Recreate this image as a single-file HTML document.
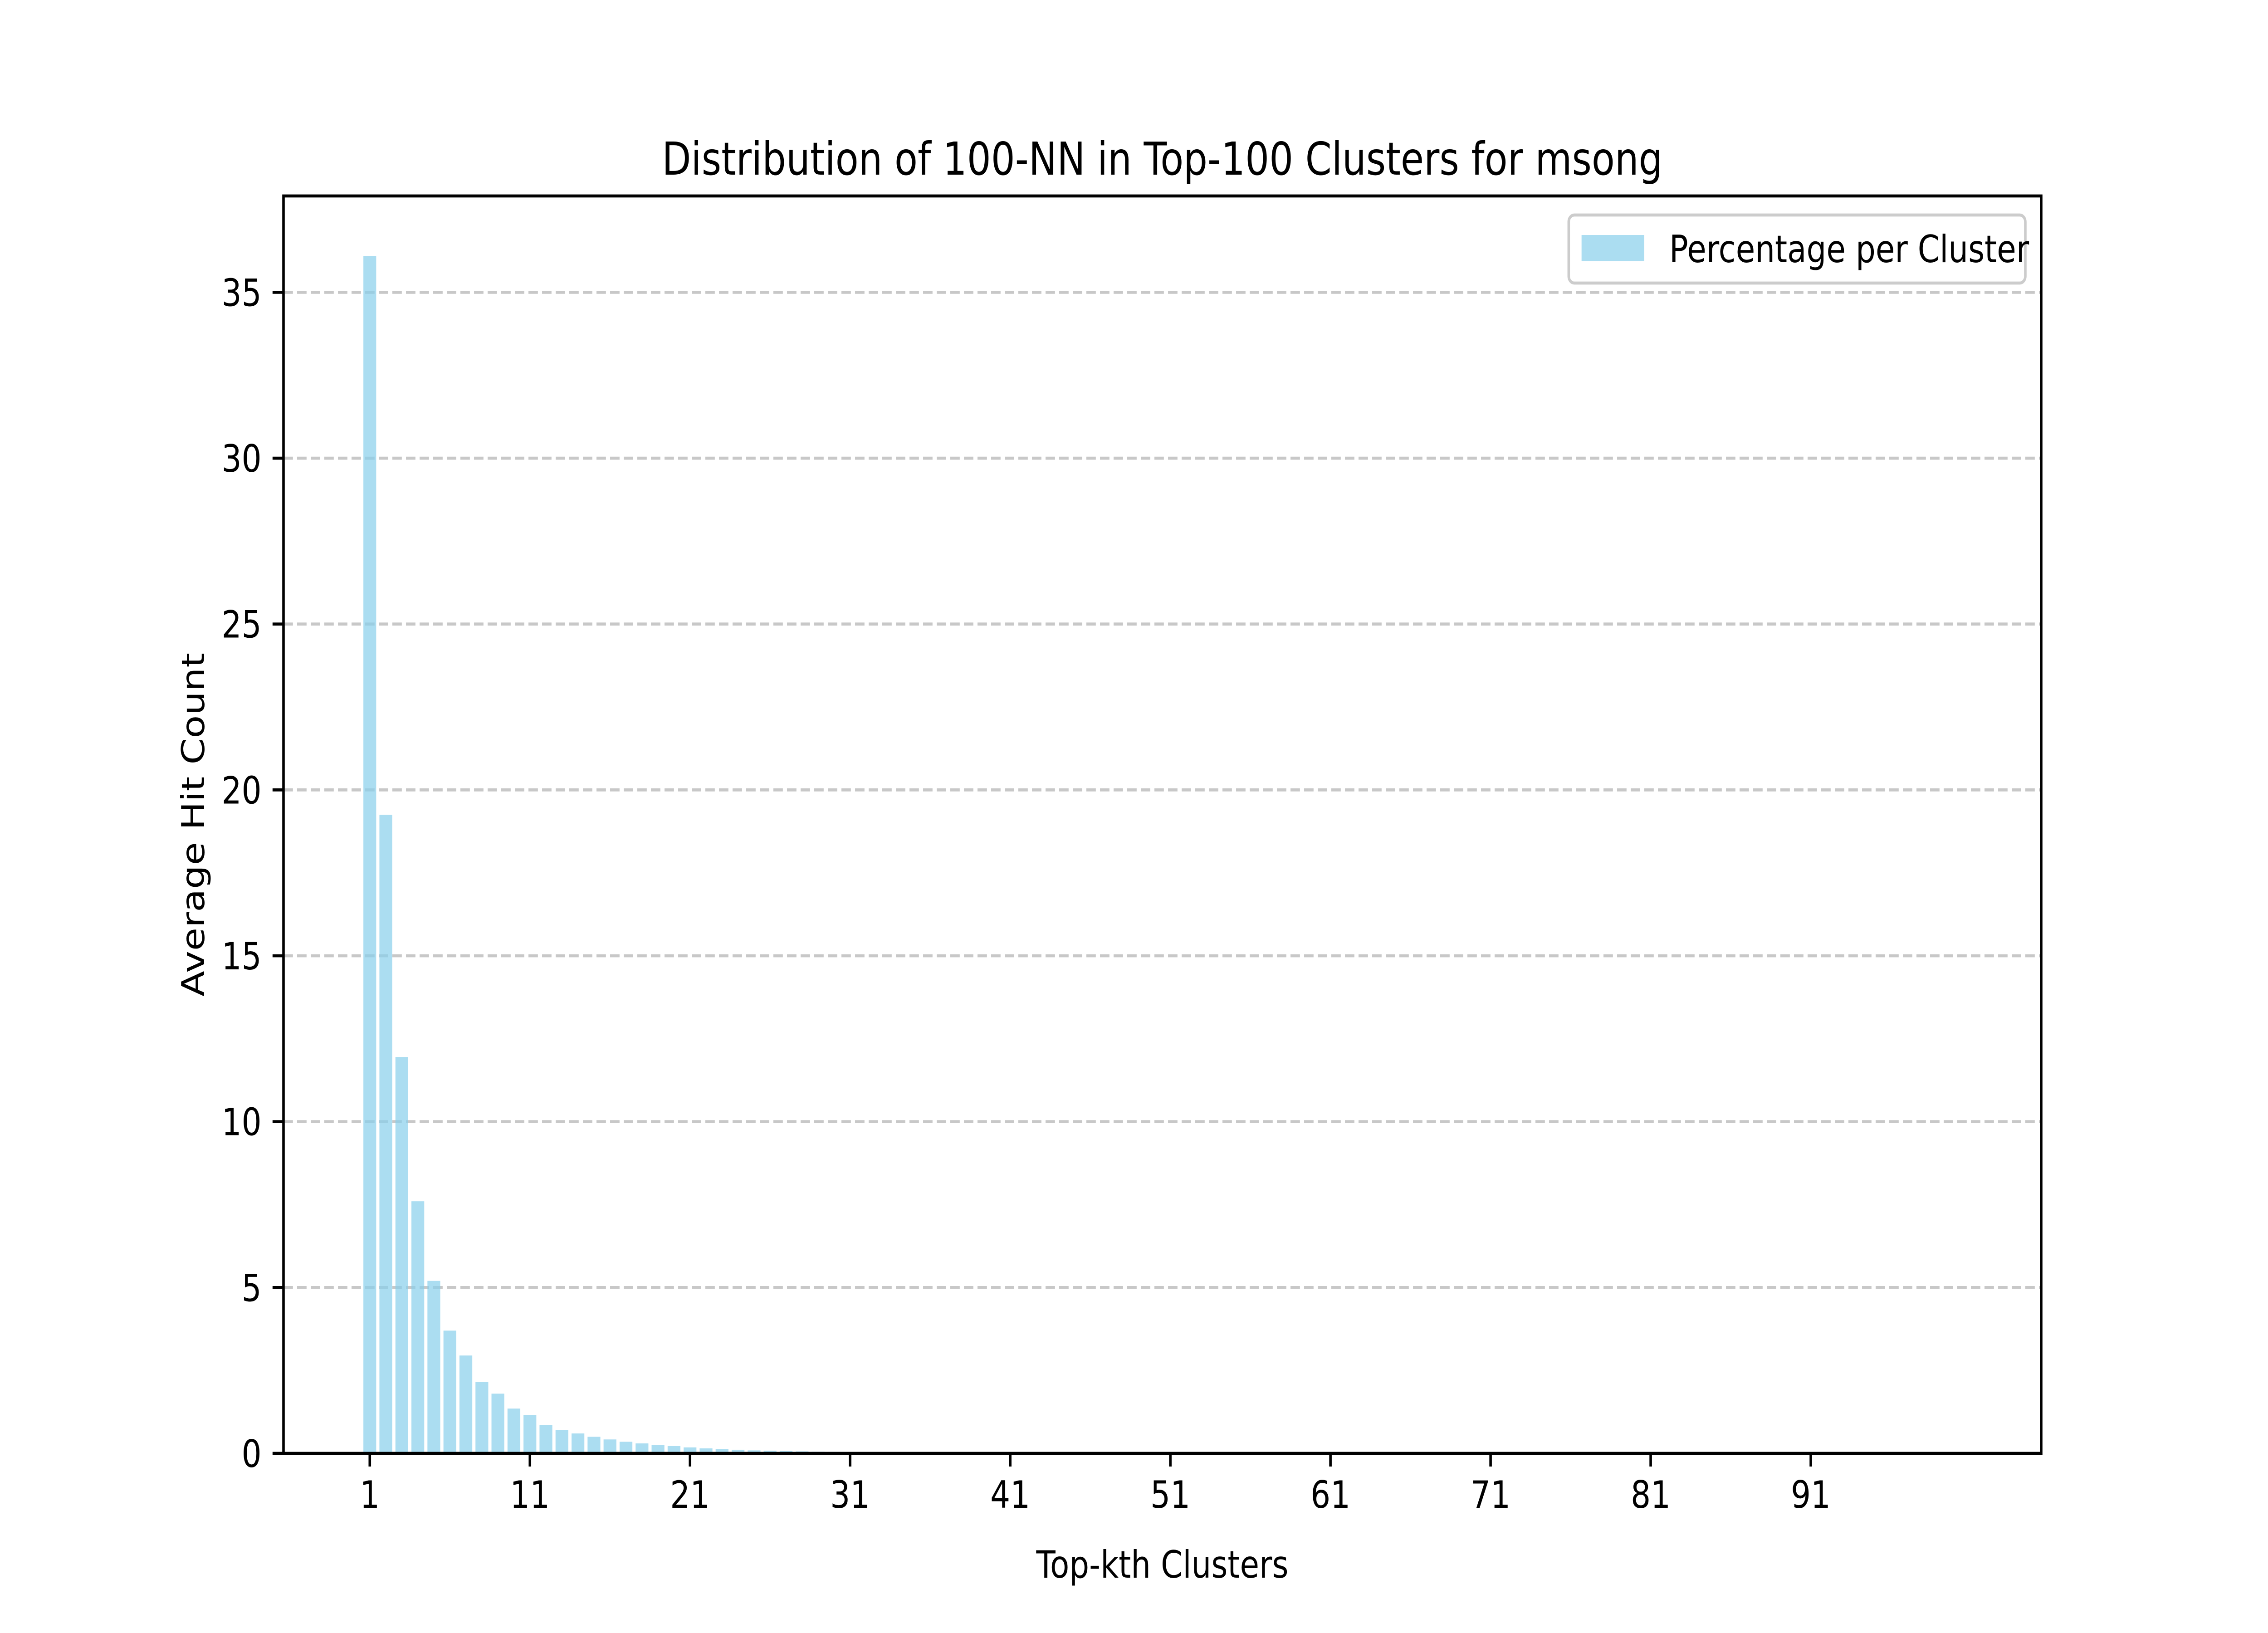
<!DOCTYPE html>
<html><head><meta charset="utf-8"><style>html,body{margin:0;padding:0;background:#fff;overflow:hidden;width:100%;height:100%}svg{display:block;width:100vw;height:100vh}text{font-family:"DejaVu Sans","Liberation Sans",sans-serif;fill:#000}</style></head>
<body>
<svg id="chart" viewBox="0 0 6000 3600" preserveAspectRatio="none" xmlns="http://www.w3.org/2000/svg">
<rect x="0" y="0" width="6000" height="3600" fill="#fff"/>
<g id="grid"></g>
<g id="bars"></g>
<rect x="750" y="432" width="4650" height="2772" fill="none" stroke="#000" stroke-width="6.7"/>
<g id="xticks"></g>
<g id="yticks"></g>
<text x="3075" y="385" font-size="100" text-anchor="middle">Distribution of 100-NN in Top-100 Clusters for msong</text>
<text x="3075" y="3478" font-size="83" text-anchor="middle">Top-kth Clusters</text>
<text x="540" y="1818" font-size="83" text-anchor="middle" transform="rotate(-90 540 1818)">Average Hit Count</text>
<g>
<rect x="4150" y="474" width="1208" height="150" rx="15" fill="#fff" fill-opacity="0.8" stroke="#ccc" stroke-width="6.7"/>
<rect x="4184" y="518" width="166" height="58" fill="#87ceeb" fill-opacity="0.7"/>
<text x="4416" y="578" font-size="83">Percentage per Cluster</text>
</g>
</svg>
<script>
const categories = Array.from({length:100},(_,i)=>i+1);
const values = [36.1,19.25,11.95,7.6,5.2,3.7,2.95,2.15,1.8,1.35,1.15,0.85,0.7,0.6,0.5,0.42,0.35,0.3,0.25,0.22,0.18,0.15,0.13,0.11,0.09,0.08,0.07,0.06,0.05,0.045,0.04,0.035,0.03,0.025,0.02,0.018,0.016,0.014,0.012,0.01,0.009,0.008,0.007,0.006,0.005,0.005,0.004,0.004,0.003,0.003,0.003,0.002,0.002,0.002,0.002,0.001,0.001,0.001,0.001,0.001,0.001,0.001,0.001,0.001,0.001,0,0,0,0,0,0,0,0,0,0,0,0,0,0,0,0,0,0,0,0,0,0,0,0,0,0,0,0,0,0,0,0,0,0,0];
const xTickLabels = [1,11,21,31,41,51,61,71,81,91];
const yTickLabels = [0,5,10,15,20,25,30,35];
const NS="http://www.w3.org/2000/svg";
const L=750,R=5400,T=432,B=3204;
const n=categories.length;
const xmin=1-0.4-(n-1+0.8)*0.05, xmax=n+0.4+(n-1+0.8)*0.05;
const ymax=Math.max(...values)*1.05;
const xs=v=>L+(v-xmin)/(xmax-xmin)*(R-L);
const ys=v=>B-v/ymax*(B-T);
function mk(tag,attrs,parent){const e=document.createElementNS(NS,tag);for(const k in attrs)e.setAttribute(k,attrs[k]);document.getElementById(parent).appendChild(e);return e;}
yTickLabels.forEach(v=>{
  if(v>0){const g=mk('line',{x1:L,x2:R,y1:ys(v),y2:ys(v),stroke:'#b0b0b0','stroke-opacity':0.7,'stroke-width':6.7,'stroke-dasharray':'25 11'},'grid');
  
  }
  const t=mk('line',{x1:L-29,x2:L,y1:ys(v),y2:ys(v),stroke:'#000','stroke-width':6.7},'yticks');
  
  
  const tx=mk('text',{x:L-58,y:ys(v)+30,'font-size':83,'text-anchor':'end'},'yticks');
  tx.textContent=v;
  
  
});
categories.forEach((c,i)=>{
  const v=values[i]; if(v<=0)return;
  const r=mk('rect',{x:xs(c-0.4),y:ys(v),width:xs(c+0.4)-xs(c-0.4),height:B-ys(v),fill:'#87ceeb','fill-opacity':0.7},'bars');
  
  
});
xTickLabels.forEach(v=>{
  const t=mk('line',{x1:xs(v),x2:xs(v),y1:B,y2:B+29,stroke:'#000','stroke-width':6.7},'xticks');
  
  
  const tx=mk('text',{x:xs(v),y:B+58+62,'font-size':83,'text-anchor':'middle'},'xticks');
  tx.textContent=v;
  
  
});
</script>
</body></html>
